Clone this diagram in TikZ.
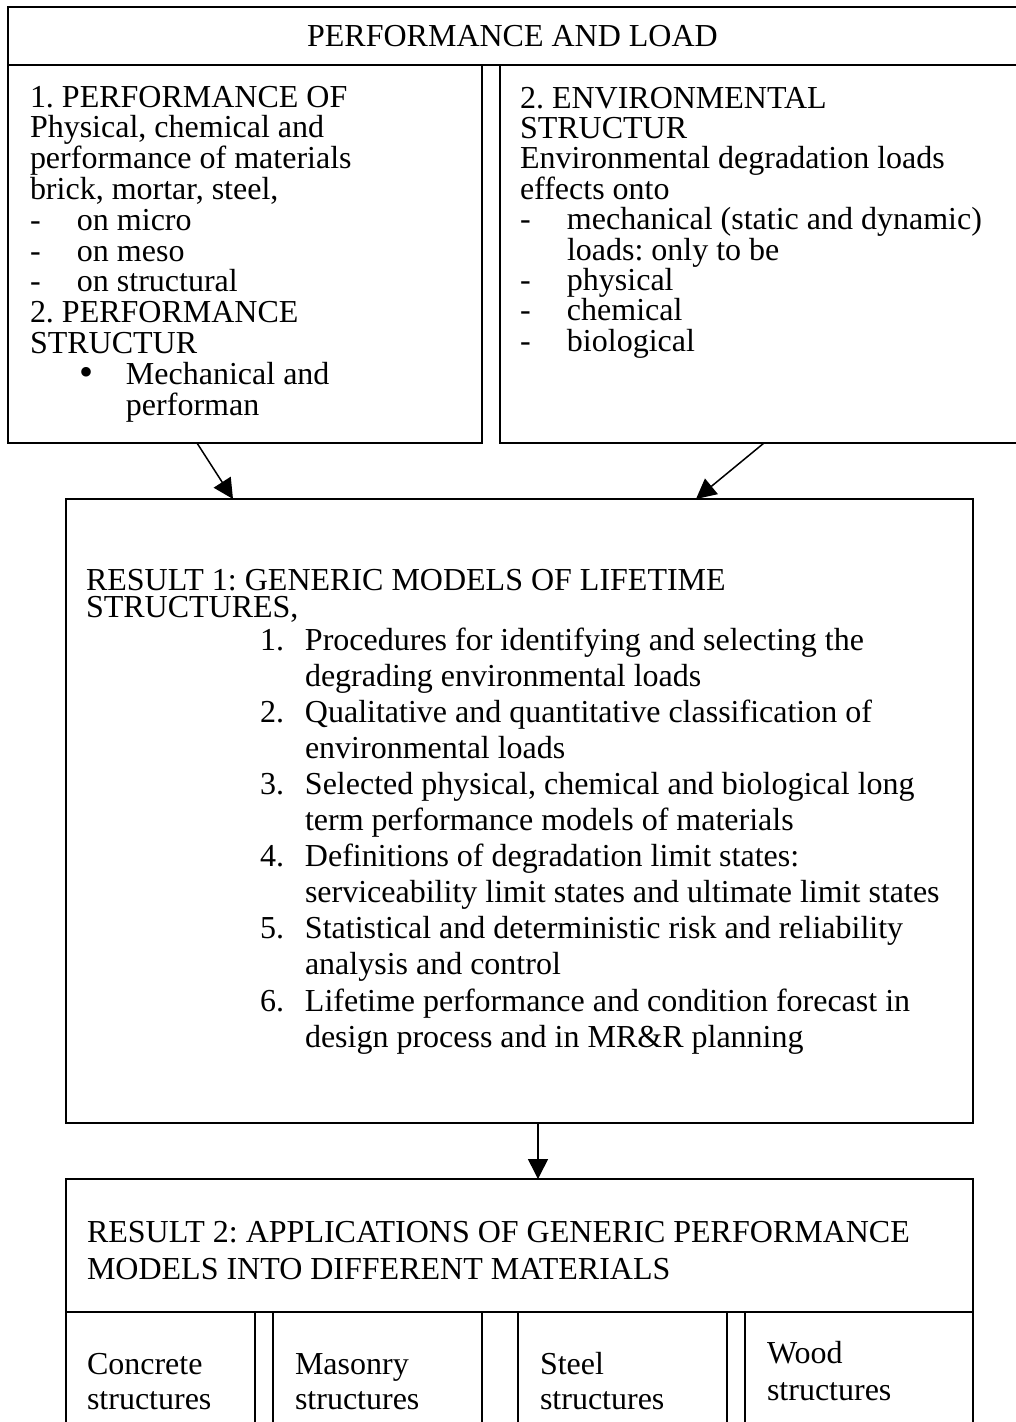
\documentclass[tikz,border=0pt]{standalone}
\usepackage{fontspec}
\setmainfont{Liberation Serif}
\usetikzlibrary{arrows.meta}

\frenchspacing
\newcommand\bodyfont{\fontsize{32}{30.8}\selectfont}
\newcommand\listdash{\makebox[47pt][l]{-}}

\begin{document}
\begin{tikzpicture}[x=1pt,y=-1pt,
  box/.style={draw, line width=2pt, rectangle, inner sep=0pt, outer sep=0pt, anchor=north west},
  txt/.style={anchor=base west, inner sep=0pt, outer sep=0pt, font=\bodyfont},
  arr/.style={-{Triangle[length=20pt,width=20pt]}, line width=1.5pt}]

\useasboundingbox (0,0) rectangle (1016,1422);
\fill[white] (0,0) rectangle (1016,1422);

% top block: title and the two input boxes
\node[box, minimum width=1009pt, minimum height=58pt] (head) at (8,7) {};
\node[box, minimum width=474pt, minimum height=378pt] (lbox) at (8,65) {};
\node[box, minimum width=517pt, minimum height=378pt] (rbox) at (500,65) {};
\node[font=\bodyfont, inner sep=0pt] (headtxt) at (head.center) {PERFORMANCE AND LOAD};

\node[txt] (ltxt) at (30,107) {\parbox[t]{460pt}{\raggedright\fontsize{32}{30.8}\selectfont
1. PERFORMANCE OF\\
Physical, chemical and\\
performance of materials\\
brick, mortar, steel,\\
\listdash on micro\\
\listdash on meso\\
\listdash on structural\\
2. PERFORMANCE\\
STRUCTUR\\
\hspace*{50pt}\makebox[46pt][l]{\raisebox{-1pt}{\fontsize{40}{40}\selectfont\textbullet}}Mechanical and\\
\hspace*{96pt}performan}};

\node[txt] (rtxt) at (520,108) {\parbox[t]{490pt}{\raggedright\fontsize{32}{30.4}\selectfont
2. ENVIRONMENTAL\\
STRUCTUR\\
Environmental degradation loads\\
effects onto\\
\listdash mechanical (static and dynamic)\\
\hspace*{47pt}loads: only to be\\
\listdash physical\\
\listdash chemical\\
\listdash biological}};

% first result
\node[box, minimum width=907pt, minimum height=624pt] (res1) at (66,499) {};
\node[txt] (res1head) at (86,590) {\parbox[t]{880pt}{\raggedright\fontsize{32}{27}\selectfont
RESULT 1: GENERIC MODELS OF LIFETIME\\
STRUCTURES,}};
\node[txt] (res1list) at (260,650) {\parbox[t]{710pt}{\raggedright\fontsize{32}{36.1}\selectfont
\makebox[45pt][l]{1.}Procedures for identifying and selecting the\\
\hspace*{45pt}degrading environmental loads\\
\makebox[45pt][l]{2.}Qualitative and quantitative classification of\\
\hspace*{45pt}environmental loads\\
\makebox[45pt][l]{3.}Selected physical, chemical and biological long\\
\hspace*{45pt}term performance models of materials\\
\makebox[45pt][l]{4.}Definitions of degradation limit states:\\
\hspace*{45pt}serviceability limit states and ultimate limit states\\
\makebox[45pt][l]{5.}Statistical and deterministic risk and reliability\\
\hspace*{45pt}analysis and control\\
\makebox[45pt][l]{6.}Lifetime performance and condition forecast in\\
\hspace*{45pt}design process and in MR\&R planning}};

% second result and the four material boxes
\node[box, minimum width=907pt, minimum height=133pt] (res2) at (66,1179) {};
\node[txt] (res2head) at (87,1242) {\parbox[t]{880pt}{\raggedright\fontsize{32}{37}\selectfont
RESULT 2: APPLICATIONS OF GENERIC PERFORMANCE\\
MODELS INTO DIFFERENT MATERIALS}};

\node[box, minimum width=189pt, minimum height=130pt] (cbox) at (66,1312) {};
\node[box, minimum width=209pt, minimum height=130pt] (mbox) at (273,1312) {};
\node[box, minimum width=209pt, minimum height=130pt] (sbox) at (518,1312) {};
\node[box, minimum width=228pt, minimum height=130pt] (wbox) at (745,1312) {};

\node[txt] (ctxt) at (87,1374) {\parbox[t]{170pt}{\raggedright\fontsize{32}{35}\selectfont Concrete\\structures}};
\node[txt] (mtxt) at (295,1374) {\parbox[t]{180pt}{\raggedright\fontsize{32}{35}\selectfont Masonry\\structures}};
\node[txt] (stxt) at (540,1374) {\parbox[t]{180pt}{\raggedright\fontsize{32}{35}\selectfont Steel\\structures}};
\node[txt] (wtxt) at (767,1363) {\parbox[t]{200pt}{\raggedright\fontsize{32}{37}\selectfont Wood\\structures}};

% connectors
\draw[arr] ([xshift=189pt]lbox.south west) -- ([xshift=167pt]res1.north west);
\draw[arr] ([xshift=264pt]rbox.south west) -- ([xshift=630pt]res1.north west);
\draw[arr] ([xshift=472pt]res1.south west) -- ([xshift=472pt]res2.north west);

\end{tikzpicture}
\end{document}
